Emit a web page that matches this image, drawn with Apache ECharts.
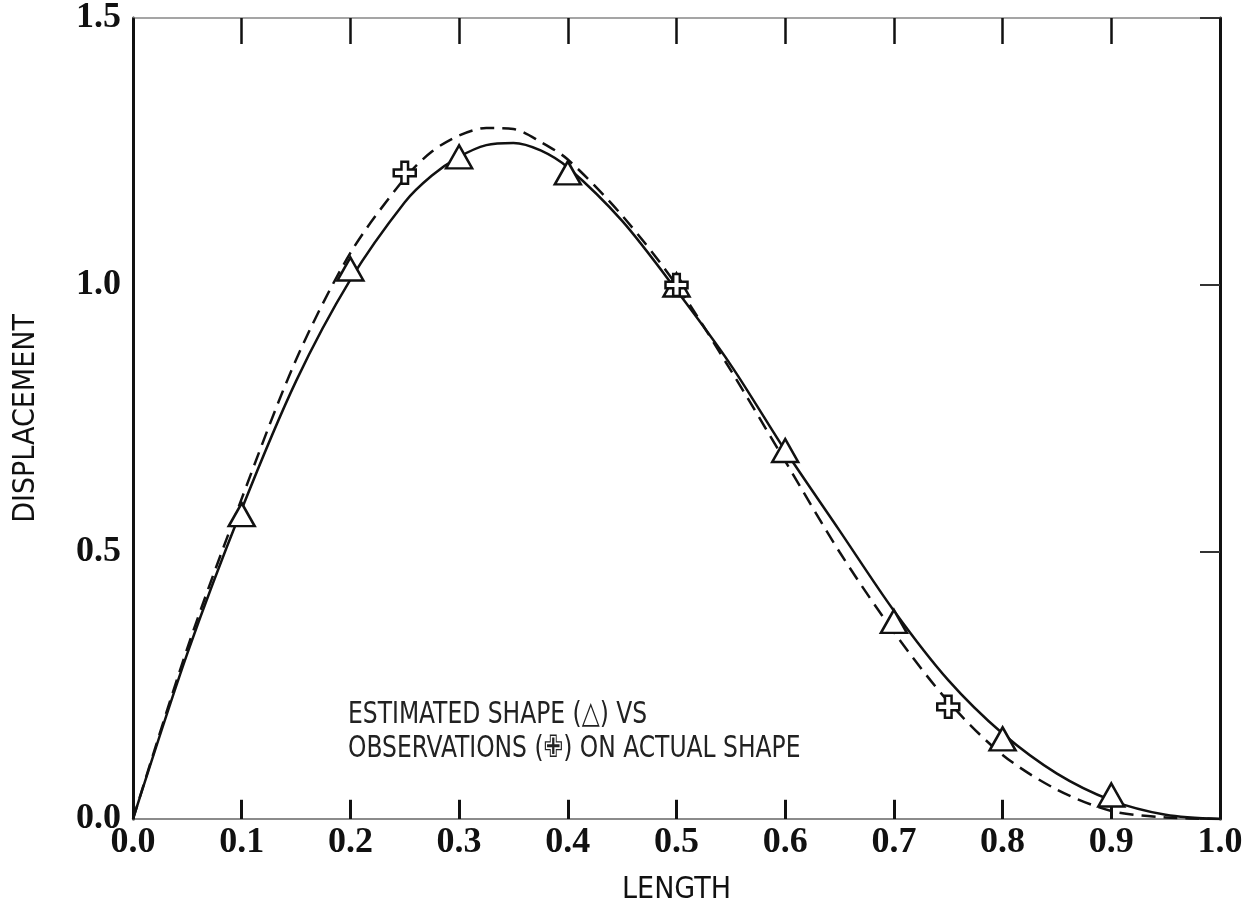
<!DOCTYPE html>
<html>
<head>
<meta charset="utf-8">
<script src="https://cdn.jsdelivr.net/npm/echarts@6/dist/echarts.min.js"></script>
<style>
  html, body { margin: 0; padding: 0; background: #fff; }
  #chart_div { width: 1248px; height: 910px; }
</style>
</head>
<body>
<div id="chart_div"></div>
<script>
// values
const lengthPts = [0, 0.05, 0.1, 0.15, 0.2, 0.25, 0.275, 0.3, 0.325, 0.35, 0.375, 0.4, 0.45, 0.5,
  0.55, 0.6, 0.65, 0.7, 0.75, 0.8, 0.85, 0.9, 0.95, 1.0];
const estimatedCurve = [0, 0.31, 0.58, 0.82, 1.01, 1.155, 1.205, 1.24, 1.262, 1.266, 1.252, 1.22, 1.12, 0.99,
  0.85, 0.69, 0.54, 0.39, 0.26, 0.16, 0.085, 0.035, 0.008, 0];
const actualCurve = [0, 0.32, 0.6, 0.86, 1.06, 1.2, 1.25, 1.28, 1.294, 1.292, 1.268, 1.235, 1.13, 1.0,
  0.84, 0.67, 0.5, 0.35, 0.22, 0.12, 0.055, 0.015, 0.003, 0];
const estimatedX = [0.1, 0.2, 0.3, 0.4, 0.5, 0.6, 0.7, 0.8, 0.9];
const estimatedY = [0.57, 1.03, 1.24, 1.21, 1.0, 0.69, 0.37, 0.15, 0.045];
const observedX = [0.25, 0.5, 0.75];
const observedY = [1.21, 1.0, 0.21];
const xTickLabels = ["0.0", "0.1", "0.2", "0.3", "0.4", "0.5", "0.6", "0.7", "0.8", "0.9", "1.0"];
const yTickLabels = ["0.0", "0.5", "1.0", "1.5"];

const narrow = "'Liberation Sans Narrow', 'DejaVu Sans Condensed', sans-serif";
const typewriter = "'Liberation Serif', 'DejaVu Serif', serif";
const crossPath = "path://M7,0 L13,0 L13,7 L20,7 L20,13 L13,13 L13,20 L7,20 L7,13 L0,13 L0,7 L7,7 Z";

const zip = (xs, ys) => xs.map((x, i) => [x, ys[i]]);
// inner tick marks along the bottom edge, one per labelled value
const bottomTicks = xTickLabels.slice(1, -1).map((t) => [
  { coord: [Number(t), 0] },
  { coord: [Number(t), 0.036] }
]);

const myChart = echarts.init(document.getElementById("chart_div"));
const option = {
  animation: false,
  grid: { left: 133, right: 28, top: 18, bottom: 91 },
  xAxis: [
    {
      type: "value",
      position: "bottom",
      min: 0,
      max: 1,
      interval: 0.1,
      name: "LENGTH",
      nameLocation: "middle",
      nameGap: 56,
      nameTextStyle: { fontFamily: narrow, fontSize: 30, color: "#111" },
      axisLine: { show: true, onZero: false, lineStyle: { color: "#666", width: 1.5 } },
      axisTick: { show: true, inside: true, length: 18, lineStyle: { color: "#111", width: 2.5 } },
      axisLabel: {
        margin: 6,
        fontFamily: typewriter,
        fontWeight: "bold",
        fontSize: 36,
        color: "#111",
        formatter: (v) => xTickLabels[Math.round(v * 10)]
      },
      splitLine: { show: false }
    },
    {
      type: "value",
      position: "top",
      min: 0,
      max: 1,
      interval: 0.1,
      axisLine: { show: true, onZero: false, lineStyle: { color: "#888", width: 1.5 } },
      axisTick: { show: true, inside: true, length: 26, lineStyle: { color: "#111", width: 2.5 } },
      axisLabel: { show: false },
      splitLine: { show: false }
    }
  ],
  yAxis: [
    {
      type: "value",
      position: "left",
      min: 0,
      max: 1.5,
      interval: 0.5,
      name: "DISPLACEMENT",
      nameLocation: "middle",
      nameGap: 92,
      nameTextStyle: { fontFamily: narrow, fontSize: 30, color: "#111" },
      axisLine: { show: true, onZero: false, lineStyle: { color: "#111", width: 3 } },
      axisTick: { show: false },
      axisLabel: {
        margin: 12,
        fontFamily: typewriter,
        fontWeight: "bold",
        fontSize: 36,
        color: "#111",
        formatter: (v) => yTickLabels[Math.round(v * 2)]
      },
      splitLine: { show: false }
    },
    {
      type: "value",
      position: "right",
      min: 0,
      max: 1.5,
      interval: 0.5,
      axisLine: { show: true, onZero: false, lineStyle: { color: "#111", width: 3 } },
      axisTick: { show: true, inside: true, length: 20, lineStyle: { color: "#333", width: 2 } },
      axisLabel: { show: false },
      splitLine: { show: false }
    }
  ],
  graphic: [
    {
      type: "text",
      x: 348,
      y: 699,
      scaleX: 0.84,
      style: { text: "ESTIMATED SHAPE (△) VS", font: "31px " + narrow, fill: "#222" }
    },
    {
      type: "text",
      x: 348,
      y: 733,
      scaleX: 0.84,
      style: { text: "OBSERVATIONS (✙) ON ACTUAL SHAPE", font: "31px " + narrow, fill: "#222" }
    }
  ],
  series: [
    {
      name: "actual",
      type: "line",
      smooth: 0.3,
      showSymbol: false,
      data: zip(lengthPts, actualCurve),
      lineStyle: { color: "#111", width: 2.5, type: [14, 8] },
      z: 2
    },
    {
      name: "estimated",
      type: "line",
      smooth: 0.3,
      showSymbol: false,
      data: zip(lengthPts, estimatedCurve),
      lineStyle: { color: "#111", width: 2.5 },
      markLine: {
        silent: true,
        symbol: ["none", "none"],
        label: { show: false },
        lineStyle: { color: "#111", width: 3, type: "solid", opacity: 1 },
        data: bottomTicks
      },
      z: 3
    },
    {
      name: "estimated points",
      type: "scatter",
      symbol: "triangle",
      symbolSize: [26, 23],
      data: zip(estimatedX, estimatedY),
      itemStyle: { color: "#fff", borderColor: "#111", borderWidth: 2.5, opacity: 1 },
      z: 5
    },
    {
      name: "observations",
      type: "scatter",
      symbol: crossPath,
      symbolSize: 22,
      data: zip(observedX, observedY),
      itemStyle: { color: "#fff", borderColor: "#111", borderWidth: 2.5, opacity: 1 },
      z: 6
    }
  ]
};
myChart.setOption(option);
</script>
</body>
</html>
